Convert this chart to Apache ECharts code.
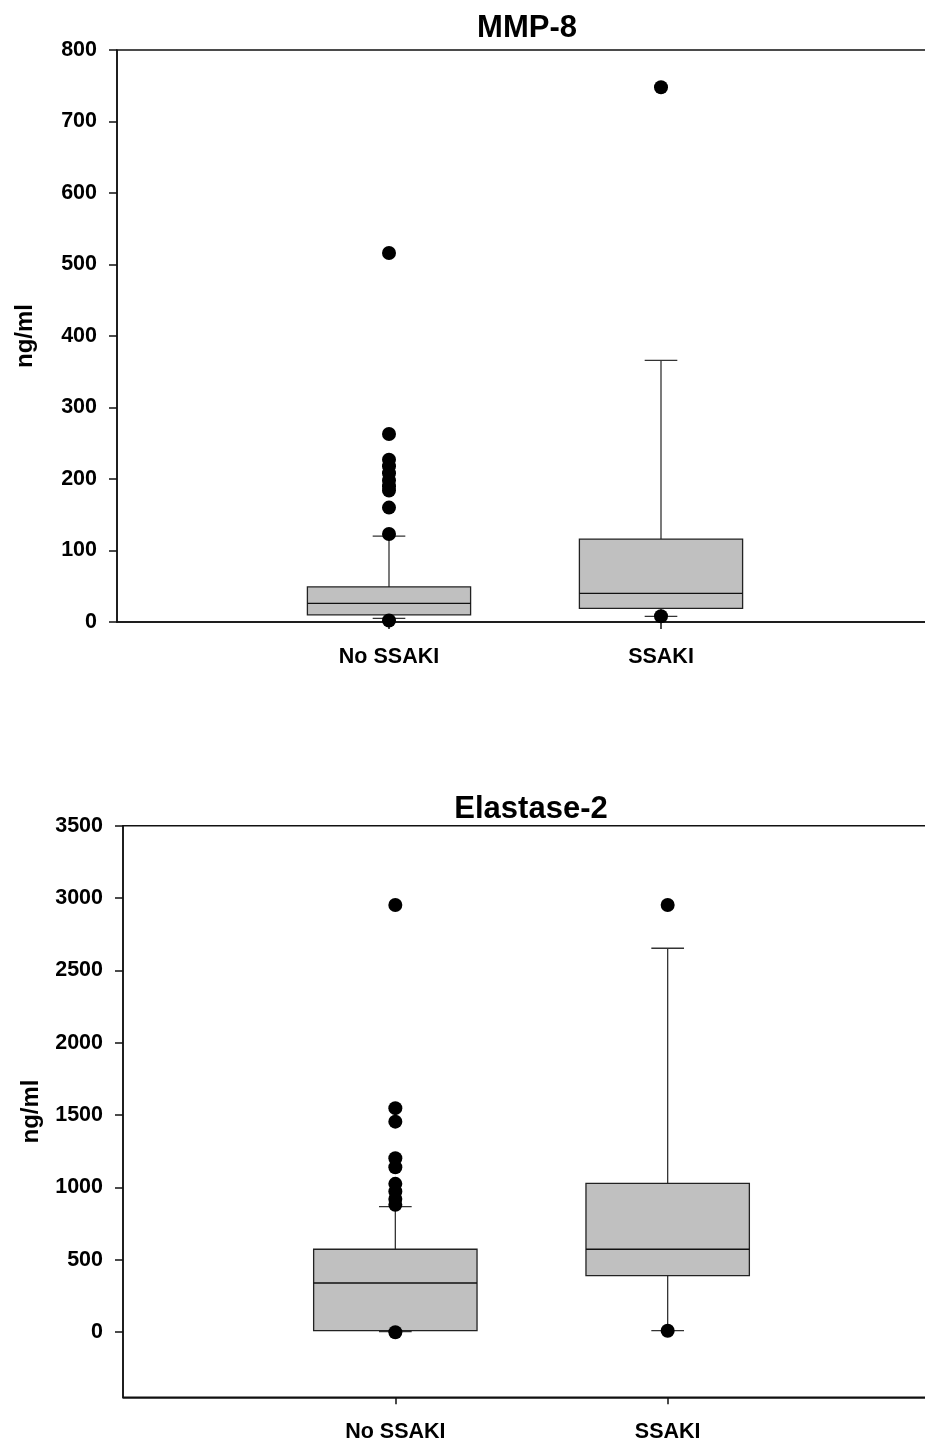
<!DOCTYPE html>
<html>
<head>
<meta charset="utf-8">
<script src="https://cdn.jsdelivr.net/npm/echarts@6/dist/echarts.min.js"></script>
<style>
html,body{margin:0;padding:0;background:#fff;}
#main{width:925px;height:1443px;}
</style>
</head>
<body>
<div id="main"></div>
<script>
// ---- data ----
var categories = ['No SSAKI', 'SSAKI'];
var yTicksMMP = [0, 100, 200, 300, 400, 500, 600, 700, 800];
var yTicksEla = [0, 500, 1000, 1500, 2000, 2500, 3000, 3500];
// [lower whisker, Q1, median, Q3, upper whisker]
var mmpNoSSAKI = [5, 10, 26, 49, 120];
var mmpSSAKI = [8, 19, 40, 116, 366];
var mmpOutNoSSAKI = [516, 263, 227, 218, 208, 198, 190, 184, 160, 123, 2];
var mmpOutSSAKI = [748, 8];
var elaNoSSAKI = [4, 11, 340, 573, 868];
var elaSSAKI = [11, 391, 573, 1029, 2653];
var elaOutNoSSAKI = [2952, 1548, 1455, 1202, 1140, 1025, 972, 921, 880, 0];
var elaOutSSAKI = [2952, 10];

var FONT = '"Liberation Sans", Arial, sans-serif';

function boxData(a, b) {
  return [[1].concat(a), [2].concat(b)];
}
function outData(a, b) {
  var r = [];
  a.forEach(function (v) { r.push([1, v]); });
  b.forEach(function (v) { r.push([2, v]); });
  return r;
}

function renderBox(params, api) {
  var x = api.value(0);
  var band = api.size([1, 0])[0];
  var bw = band * 0.6;
  var cw = band * 0.12;
  var pLo = api.coord([x, api.value(1)]);
  var pQ1 = api.coord([x, api.value(2)]);
  var pMed = api.coord([x, api.value(3)]);
  var pQ3 = api.coord([x, api.value(4)]);
  var pHi = api.coord([x, api.value(5)]);
  var cx = pQ1[0];
  var lineStyle = { stroke: '#333', lineWidth: 1.3 };
  return {
    type: 'group',
    children: [
      { type: 'line', shape: { x1: cx, y1: pQ3[1], x2: cx, y2: pHi[1] }, style: lineStyle },
      { type: 'line', shape: { x1: cx, y1: pQ1[1], x2: cx, y2: pLo[1] }, style: lineStyle },
      { type: 'line', shape: { x1: cx - cw / 2, y1: pHi[1], x2: cx + cw / 2, y2: pHi[1] }, style: lineStyle },
      { type: 'line', shape: { x1: cx - cw / 2, y1: pLo[1], x2: cx + cw / 2, y2: pLo[1] }, style: lineStyle },
      { type: 'rect', shape: { x: cx - bw / 2, y: pQ3[1], width: bw, height: pQ1[1] - pQ3[1] },
        style: { fill: '#c0c0c0', stroke: '#222', lineWidth: 1.3 } },
      { type: 'line', shape: { x1: cx - bw / 2, y1: pMed[1], x2: cx + bw / 2, y2: pMed[1] },
        style: { stroke: '#111', lineWidth: 1.3 } }
    ]
  };
}

var axisLineStyle = { color: '#111', width: 1.5 };

function xAxisDef(gridIndex) {
  return {
    type: 'value', gridIndex: gridIndex, min: 0, max: 3,
    splitLine: { show: false },
    axisLine: { show: true, onZero: false, lineStyle: axisLineStyle },
    axisTick: { show: true, length: 7, customValues: [1, 2], lineStyle: axisLineStyle },
    axisLabel: {
      customValues: [1, 2], margin: 24,
      fontFamily: FONT, fontWeight: 'bold', fontSize: 21.5, color: '#000',
      formatter: function (v) { return categories[Math.round(v) - 1] || ''; }
    }
  };
}

function yAxisDef(gridIndex, min, max, ticks) {
  return {
    type: 'value', gridIndex: gridIndex, min: min, max: max,
    name: 'ng/ml', nameLocation: 'middle', nameRotate: 90, nameGap: 80,
    nameTextStyle: { fontFamily: FONT, fontWeight: 'bold', fontSize: 24, color: '#000' },
    splitLine: { show: false },
    axisLine: { show: true, lineStyle: axisLineStyle },
    axisTick: { show: true, length: 8, customValues: ticks, lineStyle: axisLineStyle },
    axisLabel: {
      customValues: ticks, margin: 20,
      fontFamily: FONT, fontWeight: 'bold', fontSize: 21.5, color: '#000',
      formatter: function (v) { return String(v); }
    }
  };
}

var chart = echarts.init(document.getElementById('main'), null, { renderer: 'canvas' });
chart.setOption({
  backgroundColor: '#fff',
  animation: false,
  title: [
    { text: 'MMP-8', left: 522, top: 8, textAlign: 'center',
      textStyle: { fontFamily: FONT, fontWeight: 'bold', fontSize: 31, color: '#000' } },
    { text: 'Elastase-2', left: 526, top: 789, textAlign: 'center',
      textStyle: { fontFamily: FONT, fontWeight: 'bold', fontSize: 31, color: '#000' } }
  ],
  grid: [
    { left: 117, top: 50, right: -8, height: 572, outerBoundsMode: 'none', containLabel: false,
      show: true, borderColor: '#111', borderWidth: 1.5 },
    { left: 123, top: 825.7, right: -15, height: 571.6, outerBoundsMode: 'none', containLabel: false,
      show: true, borderColor: '#111', borderWidth: 1.5 }
  ],
  xAxis: [xAxisDef(0), xAxisDef(1)],
  yAxis: [yAxisDef(0, 0, 800, yTicksMMP), yAxisDef(1, -450, 3500, yTicksEla)],
  series: [
    { type: 'custom', xAxisIndex: 0, yAxisIndex: 0, renderItem: renderBox,
      data: boxData(mmpNoSSAKI, mmpSSAKI), encode: { x: 0, y: [1, 2, 3, 4, 5] }, z: 2 },
    { type: 'scatter', xAxisIndex: 0, yAxisIndex: 0, symbol: 'circle', symbolSize: 14,
      itemStyle: { color: '#000', opacity: 1 }, data: outData(mmpOutNoSSAKI, mmpOutSSAKI), z: 3 },
    { type: 'custom', xAxisIndex: 1, yAxisIndex: 1, renderItem: renderBox,
      data: boxData(elaNoSSAKI, elaSSAKI), encode: { x: 0, y: [1, 2, 3, 4, 5] }, z: 2 },
    { type: 'scatter', xAxisIndex: 1, yAxisIndex: 1, symbol: 'circle', symbolSize: 14,
      itemStyle: { color: '#000', opacity: 1 }, data: outData(elaOutNoSSAKI, elaOutSSAKI), z: 3 }
  ]
});
</script>
</body>
</html>
